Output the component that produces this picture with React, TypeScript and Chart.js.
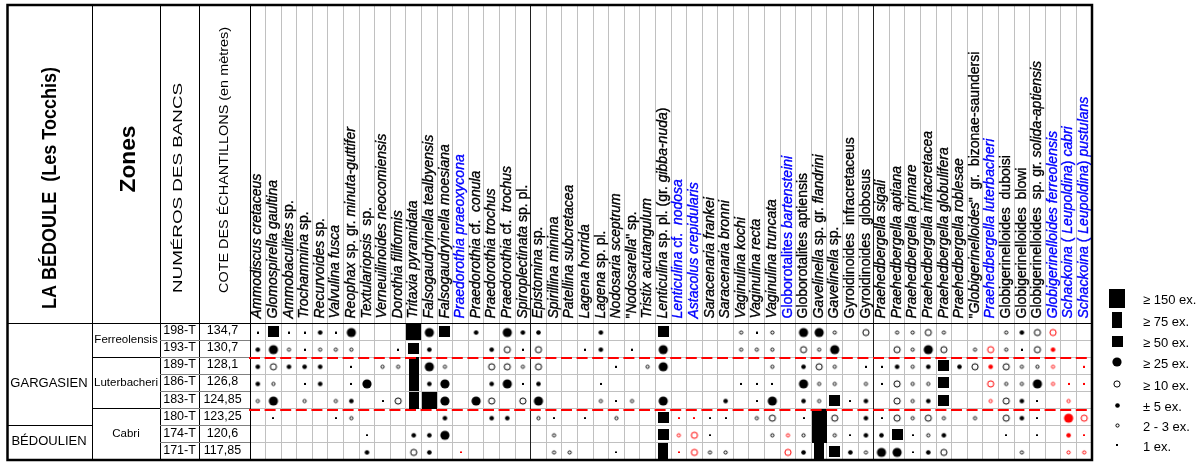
import React, { useEffect, useRef } from 'react';
import { Chart, registerables } from 'chart.js';

Chart.register(...registerables);

// ---------- header texts ----------
const siteTitle = 'LA BÉDOULE  (Les Tocchis)';
const zonesTitle = 'Zones';
const bancsTitle = 'NUMÉROS DES BANCS';
const coteTitle = 'COTE DES ÉCHANTILLONS (en mètres)';

// ---------- species (x categories); text between _ _ is italic ----------
const speciesLabels = [
  '_Ammodiscus cretaceus_',
  '_Glomospirella gaultina_',
  '_Ammobaculites_ sp.',
  '_Trochammina_ sp.',
  '_Recurvoides_ sp.',
  '_Valvulina fusca_',
  '_Reophax_ sp. gr. _minuta-guttifer_',
  '_Textulariopsis_  sp.',
  '_Verneuilinoides neocomiensis_',
  '_Dorothia filiformis_',
  '_Tritaxia pyramidata_',
  '_Falsogaudryinella tealbyensis_',
  '_Falsogaudryinella moesiana_',
  '_Praedorothia praeoxycona_',
  '_Praedorothia_ cf.  _conula_',
  '_Praedorothia trochus_',
  '_Praedorothia_ cf.  _trochus_',
  '_Spiroplectinata_ sp. pl.',
  '_Epistomina_ sp.',
  '_Spirillina minima_',
  '_Patellina subcretacea_',
  '_Lagena horrida_',
  '_Lagena_ sp. pl.',
  '_Nodosaria sceptrum_',
  '"_Nodosarella_" sp.',
  '_Tristix acutangulum_',
  '_Lenticulina_ sp. pl. (gr. _gibba-nuda_)',
  '_Lenticulina_ cf.  _nodosa_',
  '_Astacolus crepidularis_',
  '_Saracenaria frankei_',
  '_Saracenaria bronni_',
  '_Vaginulina kochi_',
  '_Vaginulina recta_',
  '_Vaginulina truncata_',
  'Globorotalites _bartensteini_',
  'Globorotalites aptiensis',
  '_Gavelinella_ sp. gr. _flandrini_',
  '_Gavelinella_ sp.',
  'Gyroidinoides  infracretaceus',
  'Gyroidinoides  globosus',
  '_Praehedbergella sigali_',
  '_Praehedbergella aptiana_',
  '_Praehedbergella primare_',
  '_Praehedbergella infracretacea_',
  '_Praehedbergella globulifera_',
  '_Praehedbergella roblesae_',
  '"_Globigerinelloides_"  gr.  bizonae-saundersi',
  '_Praehedbergella luterbacheri_',
  'Globigerinelloides  duboisi',
  'Globigerinelloides  blowi',
  'Globigerinelloides  sp. gr. _solida-aptiensis_',
  '_Globigerinelloides ferreolensis_',
  '_Schackoina_ ( _Leupoldina_) _cabri_',
  '_Schackoina_ ( _Leupoldina_) _pustulans_',
];
const blueSpecies = [13, 27, 28, 34, 47, 51, 52, 53];

// ---------- samples (y categories) ----------
const samples = ['198-T', '193-T', '189-T', '186-T', '183-T', '180-T', '174-T', '171-T'];
const elevations = ['134,7', '130,7', '128,1', '126,8', '124,85', '123,25', '120,6', '117,85'];
const stageNames = ['GARGASIEN', 'BÉDOULIEN'];
const stageRows = [[0, 5], [6, 7]];
const zoneNames = ['Ferreolensis', 'Luterbacheri', 'Cabri'];
const zoneRows = [[0, 1], [2, 4], [5, 7]];
const dashedBeforeRows = [2, 5];

// ---------- abundance classes ----------
const legendCodes = ['S150', 'S75', 'S50', '25', '10', '5', '2', '1'];
const legendLabels = ['≥ 150 ex.', '≥ 75 ex.', '≥ 50 ex.', '≥ 25 ex.', '≥ 10 ex.', '± 5 ex.', '2 - 3 ex.', '1 ex.'];

// ---------- counts: [species index, class] ; prefix r = red ----------
const counts198T: [number, string][] = [
  [0, '1'], [1, 'S50'], [2, '1'], [3, '1'], [4, '5'], [5, '1'], [6, '25'], [10, 'S150'], [11, '25'], [12, 'S50'],
  [14, '5'], [16, '25'], [17, '5'], [18, '5'], [22, '5'], [26, 'S50'], [31, '2'], [32, '1'], [33, '2'], [35, '25'],
  [36, '25'], [37, '2'], [39, '10'], [41, '2'], [42, '2'], [43, '10'], [44, '2'], [48, '2'], [49, '5'], [50, '10'], [51, 'r10'],
];
const counts193T: [number, string][] = [
  [0, '5'], [1, '25'], [2, '2'], [3, '1'], [4, '2'], [5, '2'], [6, '2'], [9, '1'], [10, 'S50'], [11, '5'],
  [15, '5'], [16, '10'], [17, '1'], [18, '10'], [21, '1'], [22, '5'], [24, '1'], [26, '25'], [31, '2'], [32, '2'],
  [33, '2'], [35, '10'], [36, '2'], [37, '25'], [41, '10'], [42, '2'], [43, '25'], [44, '10'], [46, '2'], [47, 'r10'],
  [48, '2'], [49, '1'], [50, '10'], [51, 'r5'],
];
const counts189T: [number, string][] = [
  [0, '5'], [1, '10'], [2, '5'], [3, '5'], [4, '5'], [6, '1'], [8, '2'], [9, '2'], [10, 'S75'], [11, '25'], [12, '2'],
  [15, '10'], [16, '10'], [17, '2'], [18, '10'], [23, '1'], [25, '2'], [26, '25'], [33, '2'], [35, '5'], [36, '10'],
  [37, '2'], [39, '1'], [40, '1'], [41, '5'], [42, '2'], [43, '5'], [44, 'S50'], [45, '5'], [46, '10'], [47, 'r5'],
  [48, '10'], [49, '2'], [50, '2'], [51, 'r2'], [53, 'r1'],
];
const counts186T: [number, string][] = [
  [0, '5'], [1, '2'], [3, '1'], [4, '5'], [6, '1'], [7, '25'], [10, 'S75'], [11, '5'], [12, '25'], [15, '5'],
  [16, '25'], [17, '1'], [18, '5'], [22, '1'], [31, '1'], [32, '1'], [33, '1'], [35, '25'], [36, '2'], [37, '2'],
  [39, '2'], [40, '1'], [41, '10'], [42, '2'], [43, '2'], [44, 'S50'], [47, 'r10'], [48, '2'], [49, '2'], [50, '25'],
  [51, 'r2'], [52, 'r1'], [53, 'r1'],
];
const counts183T: [number, string][] = [
  [0, '2'], [1, '25'], [3, '2'], [5, '2'], [6, '5'], [8, '1'], [9, '10'], [10, 'S75'], [11, 'S150'], [12, '25'],
  [14, '25'], [15, '10'], [17, '10'], [18, '25'], [22, '2'], [23, '1'], [24, '2'], [26, '25'], [30, '5'], [32, '1'],
  [33, '25'], [35, '5'], [36, '2'], [37, 'S50'], [38, '1'], [39, '5'], [41, '10'], [42, '2'], [43, '5'], [44, 'S50'],
  [47, 'r2'], [48, '10'], [49, '5'], [50, '1'], [52, 'r2'],
];
const counts180T: [number, string][] = [
  [1, '1'], [5, '1'], [6, '2'], [12, '5'], [15, '5'], [16, '5'], [18, '2'], [19, '1'], [21, '1'], [23, '2'],
  [26, 'S50'], [27, 'r1'], [28, 'r1'], [29, '1'], [30, '1'], [32, '2'], [33, '10'], [35, '1'], [36, 'S150'], [37, '10'],
  [39, '5'], [40, '1'], [41, '10'], [42, '2'], [43, '10'], [44, '2'], [46, '2'], [48, '10'], [49, '5'], [50, '1'],
  [52, 'r25'], [53, 'r10'],
];
const counts174T: [number, string][] = [
  [7, '1'], [10, '5'], [11, '5'], [12, '25'], [19, '2'], [26, 'S50'], [27, 'r2'], [28, 'r10'], [29, '1'], [33, '2'],
  [34, 'r2'], [35, '2'], [36, 'S150'], [37, '2'], [38, '1'], [39, '5'], [40, '5'], [41, 'S50'], [42, '1'], [43, '2'],
  [44, '5'], [48, '1'], [50, '1'], [52, 'r5'], [53, 'r1'],
];
const counts171T: [number, string][] = [
  [7, '5'], [10, '10'], [11, '5'], [13, 'r1'], [19, '2'], [20, '2'], [23, '1'], [26, 'S75'], [27, 'r1'], [28, 'r10'],
  [29, '2'], [30, '2'], [34, 'r10'], [35, '5'], [36, 'S75'], [37, 'S50'], [38, '5'], [39, '2'], [40, '25'], [41, '25'],
  [42, '1'], [43, '5'], [44, '10'], [49, '2'], [52, 'r2'], [53, 'r2'],
];
const sampleCounts = [counts198T, counts193T, counts189T, counts186T, counts183T, counts180T, counts174T, counts171T];

// ---------- drawing helpers ----------
const FONT = '"Liberation Sans", Arial, sans-serif';
const BLACK = '#000000';
const RED = '#ff0000';
const BLUE = '#0000ff';
const plainLabels = speciesLabels.map((s) => s.replace(/_/g, ''));

function makeSymbol(kind: string, color: string, shiftY: number, legend = false): HTMLCanvasElement {
  const c = document.createElement('canvas');
  const ctx = c.getContext('2d') as CanvasRenderingContext2D;
  const rects: Record<string, [number, number]> = legend
    ? { S150: [16, 19], S75: [10, 16], S50: [11, 11] }
    : { S150: [15, 17], S75: [10, 17], S50: [11, 11] };
  if (rects[kind]) {
    const [w, h] = rects[kind];
    c.width = w;
    c.height = h;
    ctx.fillStyle = color;
    ctx.fillRect(0, 0, w, h);
    return c;
  }
  if (kind === '1') {
    c.width = 2;
    c.height = 2 + shiftY * 2;
    ctx.fillStyle = color;
    ctx.fillRect(0, shiftY * 2, 2, 2);
    return c;
  }
  const circ: Record<string, [number, boolean]> = {
    '25': [4.6, true],
    '10': [3.6, false],
    '5': [2.3, true],
    '2': [2.1, false],
  };
  const [r, filled] = circ[kind];
  const size = Math.ceil(2 * r + 2);
  c.width = size;
  c.height = size + shiftY * 2;
  ctx.beginPath();
  if (filled) {
    ctx.arc(size / 2, size / 2 + shiftY * 2, r, 0, Math.PI * 2);
    ctx.fillStyle = color;
    ctx.fill();
  } else {
    ctx.arc(size / 2, size / 2 + shiftY * 2, r - 0.5, 0, Math.PI * 2);
    ctx.fillStyle = '#ffffff';
    ctx.fill();
    ctx.lineWidth = 1;
    ctx.strokeStyle = color;
    ctx.stroke();
  }
  return c;
}

function drawFitted(ctx: CanvasRenderingContext2D, text: string, baseX: number, cy: number, font: string, length: number) {
  ctx.save();
  ctx.translate(baseX, cy);
  ctx.rotate(-Math.PI / 2);
  ctx.font = font;
  const w = ctx.measureText(text).width;
  ctx.scale(length / w, 1);
  ctx.textAlign = 'center';
  ctx.textBaseline = 'alphabetic';
  ctx.fillStyle = BLACK;
  ctx.fillText(text, 0, 0);
  ctx.restore();
}

function drawRich(ctx: CanvasRenderingContext2D, markup: string, x: number, y: number, color: string) {
  const parts = markup.split('_');
  ctx.save();
  ctx.translate(x, y);
  ctx.rotate(-Math.PI / 2);
  ctx.textAlign = 'left';
  ctx.textBaseline = 'alphabetic';
  ctx.fillStyle = color;
  ctx.strokeStyle = color;
  ctx.lineWidth = 0.35;
  let cx = 0;
  parts.forEach((p, k) => {
    if (!p) return;
    ctx.font = k % 2 ? `italic 14px ${FONT}` : `14px ${FONT}`;
    ctx.fillText(p, cx, 0);
    ctx.strokeText(p, cx, 0);
    cx += ctx.measureText(p).width;
  });
  ctx.restore();
}

const al = (p: number) => Math.round(p - 0.5) + 0.5;

const tablePlugin = {
  id: 'tableDecor',
  beforeDraw(chart: any) {
    const ctx = chart.ctx as CanvasRenderingContext2D;
    ctx.save();
    ctx.fillStyle = '#ffffff';
    ctx.fillRect(0, 0, chart.width, chart.height);
    ctx.restore();
  },
  afterDatasetsDraw(chart: any) {
    const ctx = chart.ctx as CanvasRenderingContext2D;
    const xs = chart.scales.x;
    const ys = chart.scales.y;
    const area = chart.chartArea;
    const top = 5;
    const bottom = area.bottom;
    const colX = [8, 92, 160, 199];
    const n = plainLabels.length;
    const rowB = (k: number) => ys.getPixelForValue(k - 0.5);
    const colB = (k: number) => xs.getPixelForValue(k - 0.5);

    const line = (x1: number, y1: number, x2: number, y2: number, color: string, w = 1) => {
      ctx.beginPath();
      ctx.moveTo(x1, y1);
      ctx.lineTo(x2, y2);
      ctx.strokeStyle = color;
      ctx.lineWidth = w;
      ctx.stroke();
    };

    ctx.save();
    // header column separators
    for (let k = 1; k < n; k++) {
      const x = al(colB(k));
      const major = k === 18 || k === 40;
      line(x, top, x, major ? bottom : area.top, major ? '#202020' : '#c0c0c0');
    }
    // left table lines
    [colX[1], colX[2], colX[3], area.left].forEach((x) => line(al(x), top, al(x), bottom, BLACK));
    line(colX[0], al(area.top), area.right, al(area.top), BLACK);
    for (let k = 1; k < samples.length; k++) line(colX[2], al(rowB(k)), area.left, al(rowB(k)), '#808080');
    stageRows.slice(1).forEach(([a]) => line(colX[0], al(rowB(a)), colX[1], al(rowB(a)), BLACK));
    zoneRows.slice(1).forEach(([a]) => line(colX[1], al(rowB(a)), colX[2], al(rowB(a)), BLACK));

    // titles
    drawFitted(ctx, siteTitle, 56, 188, `bold 21px ${FONT}`, 242);
    drawFitted(ctx, zonesTitle, 135, 159, `bold 22px ${FONT}`, 67);
    drawFitted(ctx, bancsTitle, 181.5, 188, `12px ${FONT}`, 210);
    drawFitted(ctx, coteTitle, 227.5, 160, `12px ${FONT}`, 266);

    // sample texts
    ctx.fillStyle = BLACK;
    ctx.textAlign = 'center';
    ctx.textBaseline = 'middle';
    ctx.font = `12.5px ${FONT}`;
    samples.forEach((s, j) => {
      const y = ys.getPixelForValue(j) - 1;
      ctx.fillText(s, 179.5, y);
      ctx.fillText(elevations[j], 222.5, y);
    });
    ctx.font = `11.5px ${FONT}`;
    zoneNames.forEach((z, k) => {
      const [a, b] = zoneRows[k];
      ctx.fillText(z, 126, (ys.getPixelForValue(a) + ys.getPixelForValue(b)) / 2);
    });
    ctx.font = `13px ${FONT}`;
    const stageAt = [3, 6.4];
    stageNames.forEach((s, k) => {
      ctx.fillText(s, 49, ys.getPixelForValue(stageAt[k]));
    });

    // species names
    plainLabels.forEach((_, i) => {
      const cx = xs.getPixelForValue(i);
      drawRich(ctx, speciesLabels[i], cx + 3.7, area.top - 4.5, blueSpecies.includes(i) ? BLUE : BLACK);
    });

    // red dashed zone boundaries
    ctx.setLineDash([11, 4.6]);
    dashedBeforeRows.forEach((r) => {
      const y = Math.round(rowB(r)) + 1;
      line(area.left - 1, y, area.right, y, RED, 2);
    });
    ctx.setLineDash([]);

    // outer border
    ctx.strokeStyle = BLACK;
    ctx.lineWidth = 2.5;
    ctx.strokeRect(7.5, 5, area.right - 7.5, bottom - 5);

    // legend
    const lx = 1117;
    const lys = [298, 320, 341, 362, 384, 405, 425, 445];
    legendCodes.forEach((code, k) => {
      const sym = makeSymbol(code, BLACK, 0, true);
      ctx.drawImage(sym, Math.round(lx - sym.width / 2), Math.round(lys[k] - sym.height / 2));
      ctx.fillStyle = BLACK;
      ctx.textAlign = 'left';
      ctx.textBaseline = 'middle';
      ctx.font = `13px ${FONT}`;
      ctx.fillText(legendLabels[k], 1143, lys[k] + 2);
    });
    ctx.restore();
  },
};

export default function App() {
  const ref = useRef<HTMLCanvasElement>(null);
  useEffect(() => {
    const canvas = ref.current;
    if (!canvas) return;
    const kinds = ['S150', 'S75', 'S50', '25', '10', '5', '2', '1'];
    const datasets: any[] = [];
    [false, true].forEach((red) => {
      kinds.forEach((k) => {
        const code = (red ? 'r' : '') + k;
        const data: { x: string; y: string }[] = [];
        sampleCounts.forEach((row, j) =>
          row.forEach(([i, c]) => {
            if (c === code) data.push({ x: plainLabels[i], y: samples[j] });
          })
        );
        if (data.length) {
          datasets.push({
            label: code,
            data,
            pointStyle: makeSymbol(k, red ? RED : BLACK, k.startsWith('S') ? 0 : 1),
            pointRadius: 6,
            pointHoverRadius: 6,
          });
        }
      });
    });
    const chart = new Chart(canvas, {
      type: 'scatter',
      data: { datasets },
      options: {
        responsive: false,
        maintainAspectRatio: false,
        animation: false,
        events: [],
        layout: { padding: { left: 250, right: 112, top: 323, bottom: 2 } },
        plugins: { legend: { display: false }, tooltip: { enabled: false } },
        scales: {
          x: {
            type: 'category',
            labels: plainLabels,
            offset: true,
            ticks: { display: false },
            border: { display: false },
            grid: {
              offset: true,
              drawTicks: false,
              color: (c: any) => (c.index === 0 ? BLACK : c.index === 18 || c.index === 40 ? '#202020' : '#c0c0c0'),
            },
          },
          y: {
            type: 'category',
            labels: samples,
            offset: true,
            ticks: { display: false },
            border: { display: false },
            grid: {
              offset: true,
              drawTicks: false,
              color: (c: any) => (c.index === 0 ? BLACK : '#c0c0c0'),
            },
          },
        },
      },
      plugins: [tablePlugin],
    } as any);
    return () => chart.destroy();
  }, []);
  return (
    <div style={{ position: 'absolute', left: 0, top: 0, width: 1204, height: 467, background: '#fff' }}>
      <canvas ref={ref} width={1204} height={467} style={{ display: 'block', width: 1204, height: 467 }} />
    </div>
  );
}
